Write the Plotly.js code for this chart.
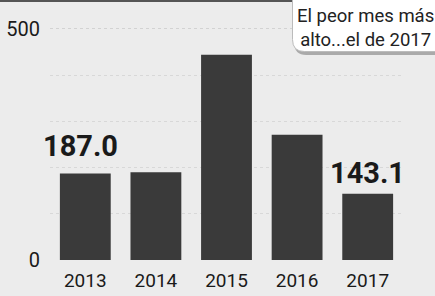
<!DOCTYPE html>
<html>
<head>
<meta charset="utf-8">
<script src="https://cdn.plot.ly/plotly-3.0.1.min.js"></script>
<style>html,body{margin:0;padding:0;background:#ececec;}#chart{width:435px;height:296px;}</style>
</head>
<body>
<div id="chart"></div>
<script>
const years = ['2013', '2014', '2015', '2016', '2017'];
const values = [187.0, 190, 444, 271, 143.1];
const labelled = {'2013': '187.0', '2017': '143.1'};
const yTicks = [0, 500];
const calloutText = 'El peor mes más<br>alto...el de 2017';

const FONT = 'Roboto, "Liberation Sans", sans-serif';

const trace = {
  type: 'bar',
  x: years,
  y: values,
  marker: {color: '#3a3a3a', line: {width: 0}},
  hoverinfo: 'skip'
};

const annotations = [];
years.forEach((yr, i) => {
  if (labelled[yr]) {
    annotations.push({
      x: i, y: values[i], xref: 'x', yref: 'y',
      text: '<b>' + labelled[yr] + '</b>',
      showarrow: false, yanchor: 'bottom',
      yshift: yr === '2013' ? 9 : 2,
      xshift: yr === '2013' ? -5 : 0,
      font: {family: FONT, size: 29, color: '#1a1a1a'}
    });
  }
});
annotations.push({
  x: 0.893, y: 0.9, xref: 'paper', yref: 'paper',
  text: calloutText, showarrow: false, align: 'center',
  xanchor: 'center', yanchor: 'middle',
  font: {family: FONT, size: 18.5, color: '#222'}
});

const rr = (x0, y0, x1, y1) =>
  `M ${x0},${y1} L ${x0},${y0 + 0.0465} Q ${x0},${y0} ${x0 + 0.034},${y0} L ${x1},${y0} L ${x1},${y1} Z`;

const layout = {
  width: 435, height: 296,
  margin: {l: 50, r: 32, t: 2, b: 36},
  paper_bgcolor: '#ececec',
  plot_bgcolor: 'rgba(0,0,0,0)',
  bargap: 0.28,
  showlegend: false,
  xaxis: {
    type: 'category',
    range: [-0.5, 4.5],
    fixedrange: true,
    showgrid: false, zeroline: false, showline: false, ticks: '',
    ticklabelstandoff: 7,
    tickfont: {family: FONT, size: 19, color: '#1a1a1a'}
  },
  yaxis: {
    range: [0, 558],
    tickvals: yTicks,
    showgrid: true, gridcolor: '#d2d2d2', griddash: 'dot', gridwidth: 1,
    minor: {dtick: 100, showgrid: true, gridcolor: '#d8d8d8', griddash: 'dot'},
    zeroline: false, showline: false, ticks: '',
    ticklabelstandoff: 9,
    tickfont: {family: FONT, size: 20, color: '#1a1a1a'}
  },
  shapes: [
    {type: 'rect', xref: 'paper', yref: 'paper', x0: -0.2, x1: 1.2, y0: 1.0, y1: 1.02,
     fillcolor: '#555', line: {width: 0}, layer: 'above'},
    {type: 'path', xref: 'paper', yref: 'paper', path: rr(0.692, 0.795, 1.2, 1.02),
     fillcolor: '#9a9a9a', line: {width: 0}, layer: 'above', opacity: 0.8},
    {type: 'path', xref: 'paper', yref: 'paper', path: rr(0.687, 0.808, 1.2, 1.02),
     fillcolor: '#ffffff', line: {width: 1, color: '#bbbbbb'}, layer: 'above'}
  ],
  annotations: annotations
};

Plotly.newPlot('chart', [trace], layout, {displayModeBar: false, staticPlot: true});
</script>
</body>
</html>
